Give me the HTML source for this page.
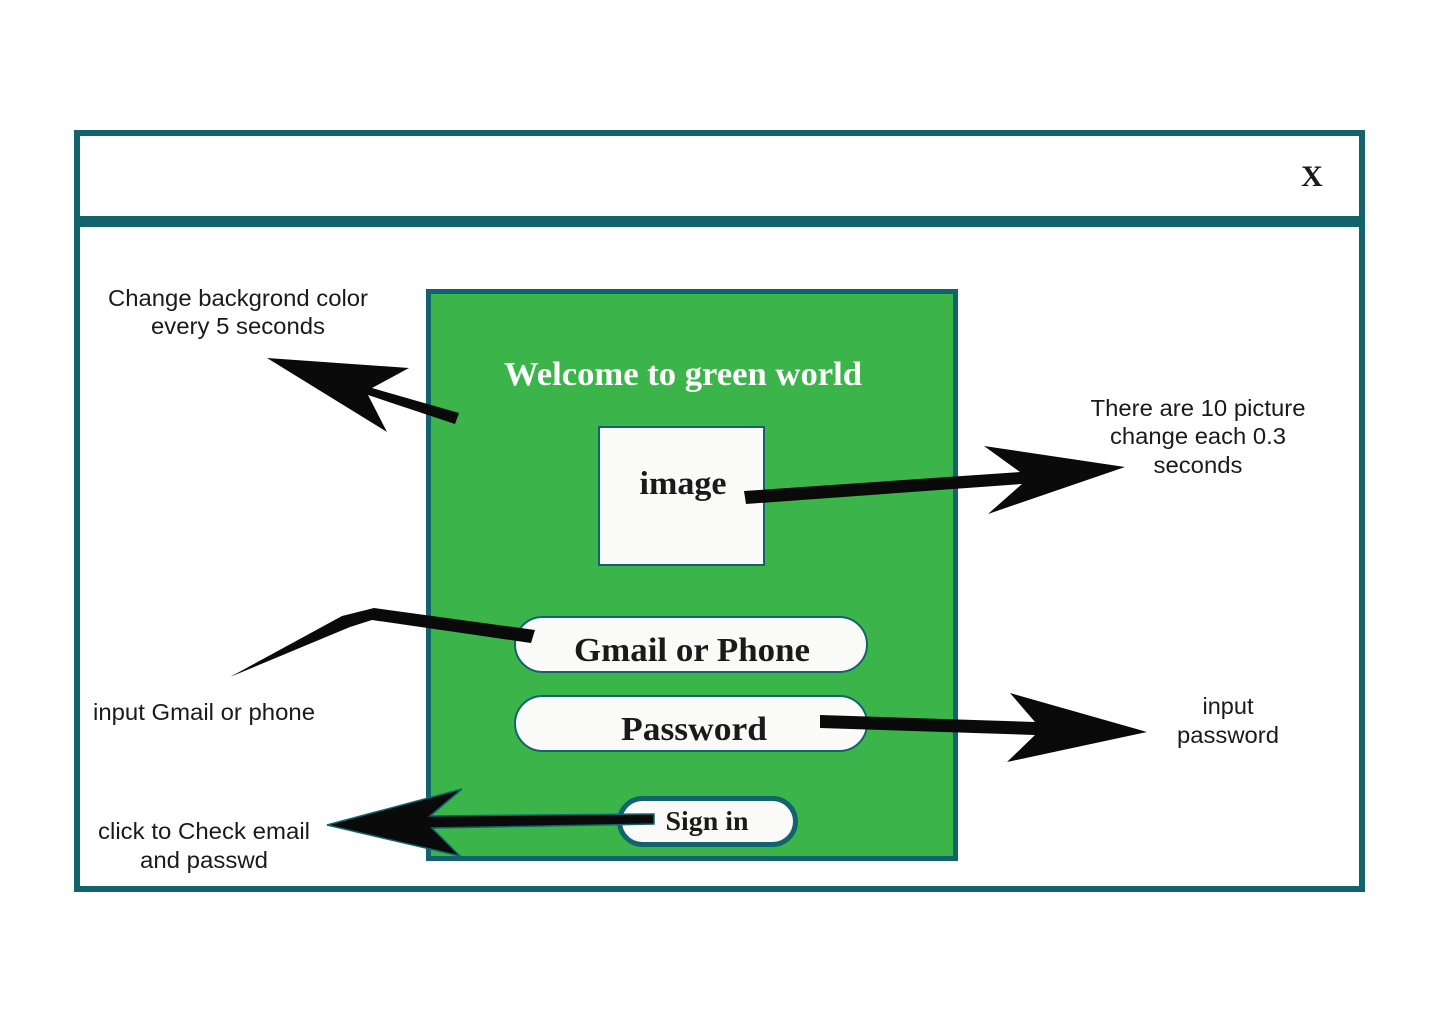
<!DOCTYPE html>
<html><head><meta charset="utf-8"><style>
html,body{margin:0;padding:0;background:#fff;}
svg{display:block;}
.lbl{font-family:"Liberation Sans",Arial,sans-serif;font-size:23px;fill:#1a1a1a;text-anchor:middle;}
.ser{font-family:"Liberation Serif",serif;font-weight:bold;fill:#1a1a1a;text-anchor:middle;}
</style></head><body>
<svg width="1440" height="1024" viewBox="0 0 1440 1024" xmlns="http://www.w3.org/2000/svg">
<rect x="0" y="0" width="1440" height="1024" fill="#fff"/>
<rect x="77" y="133" width="1285" height="756" fill="#fff" stroke="#12636b" stroke-width="6"/>
<rect x="77" y="216" width="1285" height="11" fill="#12636b"/>
<text x="1312" y="186" class="ser" font-size="30">X</text>

<rect x="428.5" y="291.5" width="527" height="567" fill="#3bb54a" stroke="#12636b" stroke-width="5"/>
<text x="683" y="385" font-family="'Liberation Serif',serif" font-weight="bold" font-size="34" fill="#fff" text-anchor="middle" textLength="358" lengthAdjust="spacingAndGlyphs">Welcome to green world</text>

<rect x="599" y="427" width="165" height="138" fill="#fafaf8" stroke="#12636b" stroke-width="2"/>
<text x="683" y="494" class="ser" font-size="33" textLength="87" lengthAdjust="spacingAndGlyphs">image</text>

<rect x="515" y="617" width="352" height="55" rx="27.5" fill="#fafaf8" stroke="#12636b" stroke-width="2"/>
<text x="692" y="661" class="ser" font-size="34" textLength="236" lengthAdjust="spacingAndGlyphs">Gmail or Phone</text>
<rect x="515" y="696" width="352" height="55" rx="27.5" fill="#fafaf8" stroke="#12636b" stroke-width="2"/>
<text x="694" y="740" class="ser" font-size="34" textLength="146" lengthAdjust="spacingAndGlyphs">Password</text>
<rect x="619.5" y="798.5" width="176" height="46" rx="23" fill="#fafaf8" stroke="#12636b" stroke-width="5"/>
<text x="707" y="830" class="ser" font-size="27" textLength="83" lengthAdjust="spacingAndGlyphs">Sign in</text>

<!-- arrows -->
<polygon fill="#0a0a0a" points="267,358 409,368 372,388 459,413 455,424 368,395 387,432"/>
<polygon fill="#0a0a0a" points="744,491 1020,472 984,446 1125,467 988,514 1022,484 746,504"/>
<polygon fill="#0a0a0a" points="535,630 374,608 342,616 230,677 350,627 372,620 531,643"/>
<polygon fill="#0a0a0a" points="820,715 1035,722 1010,693 1147,732 1007,762 1035,735 820,728"/>
<polygon fill="#0a0a0a" stroke="#12636b" stroke-width="1.5" points="327,825 462,789 430,816 654,814 654,824 432,828 460,856"/>

<text class="lbl" x="238" y="306" textLength="260" lengthAdjust="spacingAndGlyphs">Change backgrond color</text>
<text class="lbl" x="238" y="334" textLength="174" lengthAdjust="spacingAndGlyphs">every 5 seconds</text>
<text class="lbl" x="1198" y="416" textLength="215" lengthAdjust="spacingAndGlyphs">There are 10 picture</text>
<text class="lbl" x="1198" y="444" textLength="176" lengthAdjust="spacingAndGlyphs">change each 0.3</text>
<text class="lbl" x="1198" y="473" textLength="89" lengthAdjust="spacingAndGlyphs">seconds</text>
<text class="lbl" x="204" y="720" textLength="222" lengthAdjust="spacingAndGlyphs">input Gmail or phone</text>
<text class="lbl" x="1228" y="714" textLength="51" lengthAdjust="spacingAndGlyphs">input</text>
<text class="lbl" x="1228" y="743" textLength="102" lengthAdjust="spacingAndGlyphs">password</text>
<text class="lbl" x="204" y="839" textLength="212" lengthAdjust="spacingAndGlyphs">click to Check email</text>
<text class="lbl" x="204" y="868" textLength="128" lengthAdjust="spacingAndGlyphs">and passwd</text>
</svg>
</body></html>
